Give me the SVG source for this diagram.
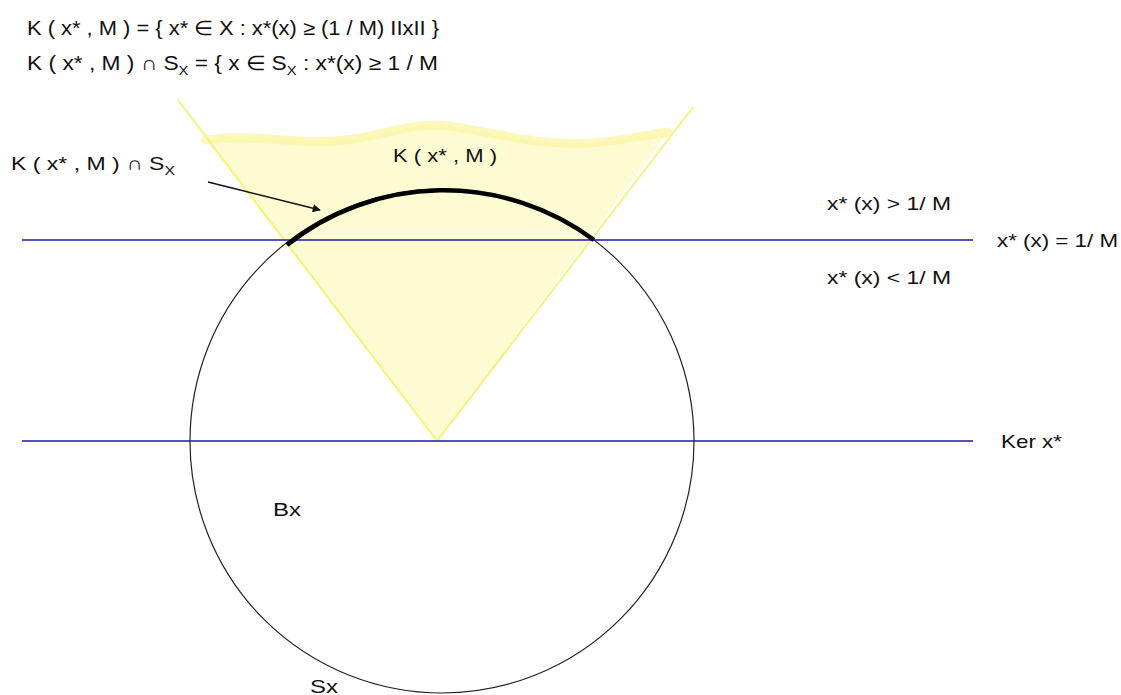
<svg xmlns="http://www.w3.org/2000/svg" width="1121" height="695" viewBox="0 0 1121 695">
<style>
text{font-family:"Liberation Sans",Arial,sans-serif;font-size:19px;fill:#111}
.top{font-size:20px}
.sub{font-size:13px}
.blue{stroke:#1a1aa8;stroke-width:1.5;fill:none}
.cone{stroke:#f6f27c;stroke-width:2;fill:none}
</style>
<defs>
<marker id="ah" viewBox="0 0 10 10" refX="9" refY="5" markerWidth="10" markerHeight="8" markerUnits="userSpaceOnUse" orient="auto"><path d="M0,0 L10,5 L0,10 z" fill="#111"/></marker>
</defs>
<rect width="1121" height="695" fill="#fff"/>
<g id="cone-region">
<path d="M206,140 C260,132 300,148 360,138 C400,130 420,122 450,126 C500,134 540,146 590,143 C630,140 650,134 668,132 L437,441 Z" fill="#fdfbd2"/>
<path d="M206,140 C260,132 300,148 360,138 C400,130 420,122 450,126 C500,134 540,146 590,143 C630,140 650,134 668,132" stroke="#fbf6a4" stroke-width="9" stroke-linecap="round" fill="none" opacity="0.75"/>
<line class="cone" x1="178" y1="100" x2="437" y2="441"/>
<line class="cone" x1="693" y1="107" x2="437" y2="441"/>
</g>
<g id="ball">
<circle cx="442" cy="441" r="252" fill="none" stroke="#222" stroke-width="1.2"/>
</g>
<g id="lines">
<line class="blue" x1="22" y1="240" x2="973" y2="240"/>
<line class="blue" x1="22" y1="441" x2="973" y2="441"/>
</g>
<g id="arc">
<path d="M287,245 A252,252 0 0 1 594,240" fill="none" stroke="#000" stroke-width="4.5"/>
</g>
<g id="connectors">
<line x1="208" y1="182" x2="320" y2="210" stroke="#111" stroke-width="1.5" marker-end="url(#ah)"/>
</g>
<g id="labels">
<text class="top" x="27" y="35" textLength="412" lengthAdjust="spacingAndGlyphs">K ( x* , M ) = { x* ∈  X : x*(x) ≥ (1 / M) IIxII }</text>
<text class="top" x="27" y="70" textLength="411" lengthAdjust="spacingAndGlyphs">K ( x* , M ) ∩ S<tspan class="sub" dy="5">X</tspan><tspan dy="-5"> = { x  ∈  S</tspan><tspan class="sub" dy="5">X</tspan><tspan dy="-5"> : x*(x) ≥ 1 / M</tspan></text>
<text x="11" y="170" textLength="164" lengthAdjust="spacingAndGlyphs">K ( x* , M ) ∩ S<tspan class="sub" dy="5">X</tspan></text>
<text x="393" y="162" textLength="104" lengthAdjust="spacingAndGlyphs">K ( x* , M )</text>
<text x="827" y="210" textLength="124" lengthAdjust="spacingAndGlyphs">x* (x) &gt; 1/ M</text>
<text x="997" y="247" textLength="121" lengthAdjust="spacingAndGlyphs">x* (x) = 1/ M</text>
<text x="827" y="284" textLength="124" lengthAdjust="spacingAndGlyphs">x* (x) &lt; 1/ M</text>
<text x="1001" y="448" textLength="61" lengthAdjust="spacingAndGlyphs">Ker x*</text>
<text x="273" y="516" textLength="28" lengthAdjust="spacingAndGlyphs">Bx</text>
<text x="310" y="693" textLength="28" lengthAdjust="spacingAndGlyphs">Sx</text>
</g>
</svg>
